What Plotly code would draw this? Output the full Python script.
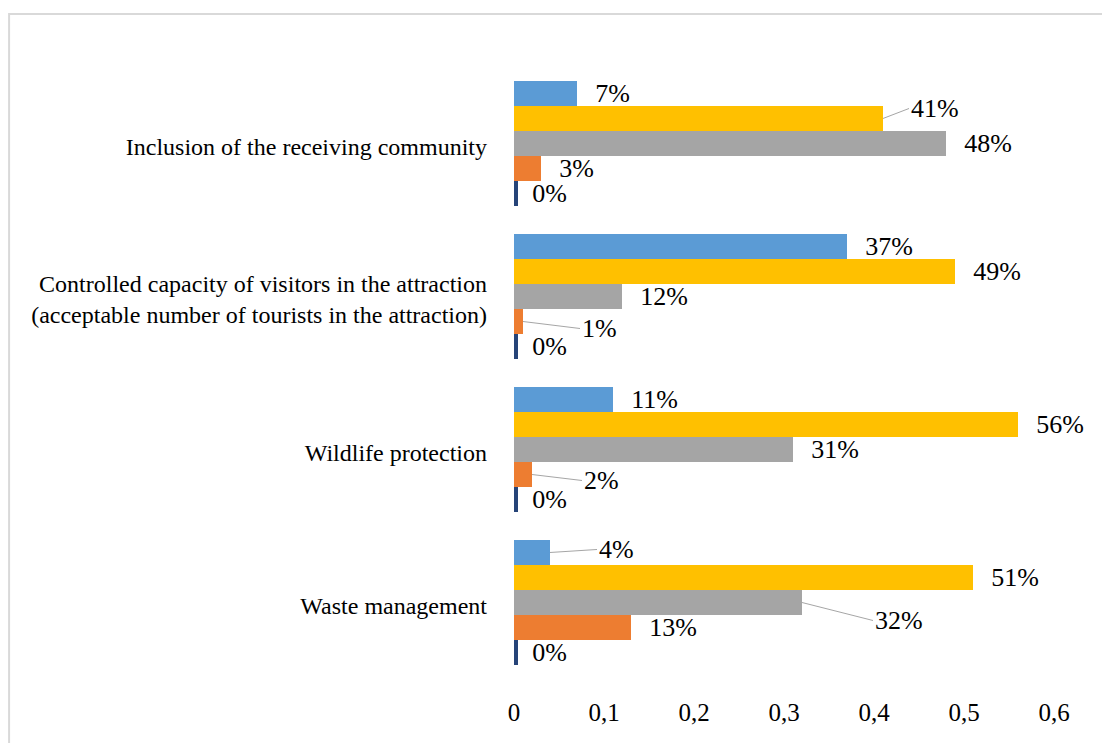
import plotly.graph_objects as go

categories = [
    "Waste management",
    "Wildlife protection",
    "Controlled capacity of visitors in the attraction<br>(acceptable number of tourists in the attraction)",
    "Inclusion of the receiving community",
]
# series listed bottom-to-top within each group
dark_blue = [0.00, 0.00, 0.00, 0.00]
orange = [0.13, 0.02, 0.01, 0.03]
gray = [0.32, 0.31, 0.12, 0.48]
yellow = [0.51, 0.56, 0.49, 0.41]
light_blue = [0.04, 0.11, 0.37, 0.07]
x_ticks = [0, 0.1, 0.2, 0.3, 0.4, 0.5, 0.6]

series = [
    ("Series 5", dark_blue, "#264478"),
    ("Series 4", orange, "#ED7D31"),
    ("Series 3", gray, "#A5A5A5"),
    ("Series 2", yellow, "#FFC000"),
    ("Series 1", light_blue, "#5B9BD5"),
]

# labels drawn with leader lines: (series index, category index) -> (ax, ay) pixel offsets
leaders = {
    (3, 3): (26, -10),
    (1, 2): (57, 7),
    (1, 1): (50, 6),
    (4, 0): (47, -3),
    (2, 0): (71, 18),
}

FONT = "Liberation Serif, Times New Roman, serif"
FS = 24
LFS = 26
bargap = 0.183
cat_px = 153
bar_px = cat_px * (1 - bargap) / len(series)

fig = go.Figure()
annotations = []
for si, (name, vals, color) in enumerate(series):
    texts = []
    for ci, v in enumerate(vals):
        lab = f"{round(v * 100)}%"
        if (si, ci) in leaders:
            ax, ay = leaders[(si, ci)]
            texts.append("")
            annotations.append(dict(
                x=v, y=categories[ci], xref="x", yref="y", text=lab,
                showarrow=True, arrowhead=0, arrowwidth=1, arrowcolor="#A6A6A6",
                ax=ax, ay=ay, xanchor="left", yshift=(si - 2) * bar_px,
                font=dict(family=FONT, size=LFS, color="#000000"),
            ))
        else:
            texts.append("\u2002\u200a" + lab)
    fig.add_trace(go.Bar(
        name=name, y=categories, x=vals, orientation="h",
        marker=dict(color=color, line=dict(color=color, width=8 if si == 0 else 0)),
        text=texts, textposition="outside", cliponaxis=False, constraintext="none",
        textfont=dict(family=FONT, size=LFS, color="#000000"),
        hoverinfo="x+y",
    ))

fig.add_shape(type="rect", xref="paper", yref="paper",
              x0=-0.935, x1=1.3, y0=-0.3, y1=1.0865,
              line=dict(color="#D9D9D9", width=2), fillcolor="rgba(0,0,0,0)", layer="below")

fig.update_layout(
    width=1102, height=735,
    margin=dict(l=506, r=56, t=59, b=64),
    paper_bgcolor="white", plot_bgcolor="white",
    barmode="group", bargap=bargap, bargroupgap=0,
    showlegend=False,
    separators=", ",
    font=dict(family=FONT, size=FS, color="#000000"),
    annotations=annotations,
    xaxis=dict(range=[0, 0.6], tickvals=x_ticks, showgrid=False, zeroline=False,
               showline=False, ticks="", ticklabelstandoff=16,
               tickfont=dict(family=FONT, size=25, color="#000000")),
    yaxis=dict(categoryorder="array", categoryarray=categories, showgrid=False,
               zeroline=False, showline=False, ticks="", ticklabelstandoff=26,
               ticklabelshift=3,
               tickfont=dict(family=FONT, size=FS, color="#000000")),
)

fig.write_html("out.html")
